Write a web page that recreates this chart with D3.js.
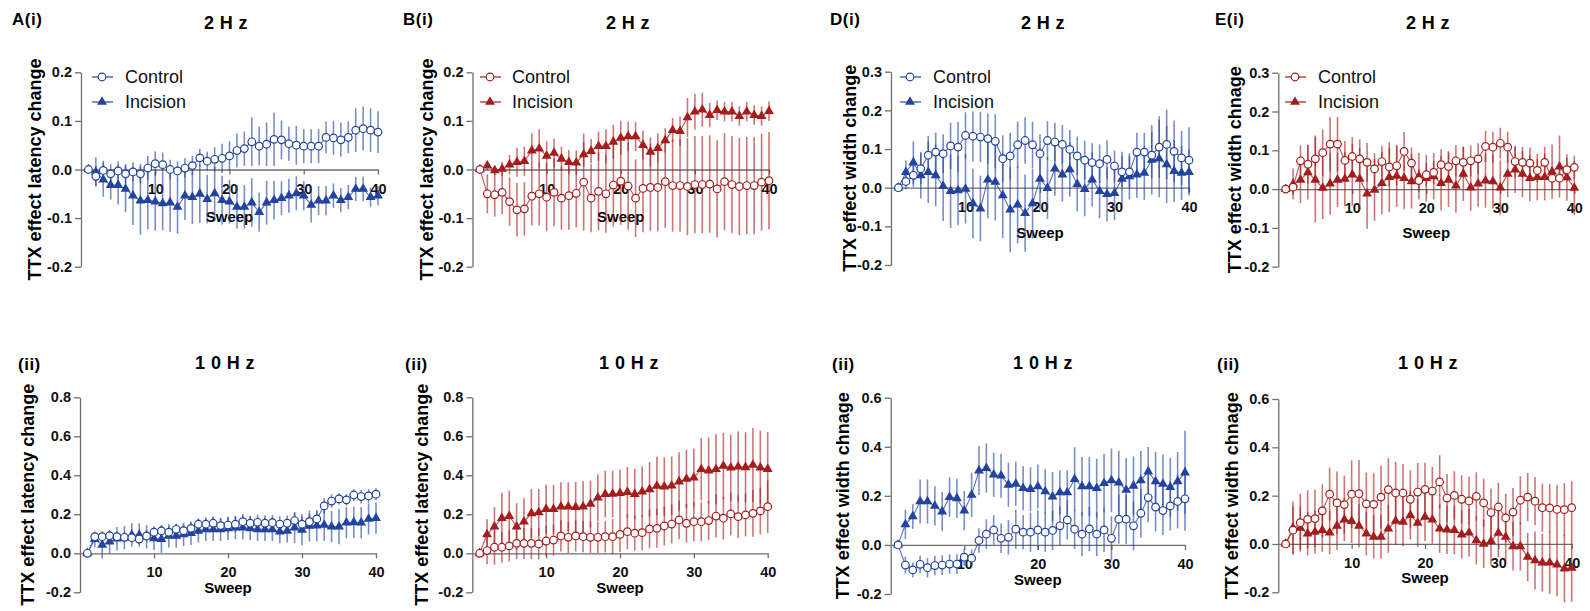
<!DOCTYPE html>
<html><head><meta charset="utf-8">
<script src="https://cdn.jsdelivr.net/npm/d3@7"></script>
<style>
body{margin:0;background:#fff;}
text{font-family:Arial,"Liberation Sans",sans-serif;}
</style></head>
<body><svg id="chart" width="1590" height="611"></svg>
<script>
// ---------- DATA ----------
const sweeps = [1,2,3,4,5,6,7,8,9,10,11,12,13,14,15,16,17,18,19,20,21,22,23,24,25,26,27,28,29,30,31,32,33,34,35,36,37,38,39,40];
const xTicks = [10,20,30,40];
const yTicksTop = [-0.2,-0.1,0,0.1,0.2];
const yTicksTopW = [-0.2,-0.1,0,0.1,0.2,0.3];
const yTicksBotL = [-0.2,0,0.2,0.4,0.6,0.8];
const yTicksBotW = [-0.2,0,0.2,0.4,0.6];
const seriesNames = ["Control","Incision"];

// A(i) 2 Hz latency (blue)
const aCtrl2 = [0,-0.014,-0.002,-0.009,-0.003,-0.009,-0.005,-0.009,0.003,0.012,0.010,0.0,-0.003,0.003,0.008,0.024,0.017,0.021,0.023,0.028,0.039,0.043,0.057,0.048,0.052,0.062,0.061,0.053,0.050,0.048,0.048,0.048,0.066,0.065,0.061,0.066,0.081,0.084,0.081,0.077];
const aCtrl2Err = [0,0.02,0.02,0.02,0.02,0.02,0.02,0.02,0.025,0.025,0.025,0.02,0.02,0.02,0.02,0.018,0.02,0.025,0.03,0.03,0.035,0.035,0.05,0.04,0.045,0.055,0.04,0.035,0.04,0.035,0.035,0.035,0.033,0.035,0.035,0.033,0.045,0.045,0.045,0.043];
const aInc2 = [0,-0.005,-0.021,-0.032,-0.032,-0.040,-0.054,-0.064,-0.063,-0.066,-0.070,-0.068,-0.077,-0.054,-0.057,-0.050,-0.061,-0.049,-0.063,-0.066,-0.077,-0.077,-0.068,-0.088,-0.068,-0.063,-0.059,-0.054,-0.049,-0.054,-0.073,-0.064,-0.064,-0.054,-0.063,-0.057,-0.040,-0.040,-0.057,-0.054];
const aInc2Err = [0,0.03,0.035,0.03,0.04,0.048,0.06,0.07,0.06,0.06,0.055,0.06,0.055,0.05,0.055,0.06,0.05,0.055,0.05,0.045,0.045,0.045,0.05,0.04,0.045,0.04,0.035,0.035,0.035,0.03,0.036,0.03,0.03,0.025,0.025,0.025,0.025,0.025,0.02,0.02];

// B(i) 2 Hz latency (red)
const bCtrl2 = [0,-0.050,-0.052,-0.047,-0.066,-0.083,-0.081,-0.055,-0.050,-0.057,-0.047,-0.059,-0.054,-0.049,-0.026,-0.059,-0.045,-0.050,-0.032,-0.024,-0.034,-0.059,-0.039,-0.037,-0.037,-0.025,-0.033,-0.033,-0.035,-0.031,-0.031,-0.030,-0.040,-0.025,-0.031,-0.035,-0.033,-0.033,-0.026,-0.023];
const bCtrl2Err = [0,0.04,0.045,0.045,0.05,0.055,0.055,0.06,0.065,0.07,0.07,0.065,0.07,0.07,0.1,0.07,0.08,0.08,0.085,0.09,0.09,0.08,0.09,0.09,0.09,0.095,0.095,0.095,0.1,0.1,0.1,0.1,0.1,0.1,0.1,0.1,0.1,0.1,0.1,0.1];
const bInc2 = [0,0.008,-0.002,0.001,0.010,0.015,0.017,0.039,0.043,0.028,0.034,0.022,0.015,0.014,0.031,0.038,0.048,0.048,0.057,0.065,0.068,0.068,0.050,0.036,0.044,0.060,0.081,0.079,0.107,0.119,0.123,0.112,0.122,0.119,0.119,0.110,0.119,0.112,0.110,0.120];
const bInc2Err = [0,0.01,0.01,0.015,0.02,0.03,0.03,0.035,0.04,0.03,0.03,0.025,0.025,0.025,0.025,0.025,0.03,0.035,0.035,0.035,0.03,0.03,0.03,0.03,0.03,0.025,0.025,0.03,0.04,0.037,0.035,0.025,0.02,0.02,0.02,0.02,0.02,0.02,0.02,0.02];

// D(i) 2 Hz width (blue)
const dCtrl2 = [0,0.016,0.032,0.049,0.084,0.092,0.088,0.108,0.105,0.135,0.133,0.131,0.127,0.120,0.075,0.082,0.111,0.122,0.111,0.088,0.122,0.118,0.112,0.099,0.082,0.071,0.065,0.062,0.073,0.056,0.041,0.041,0.092,0.092,0.084,0.105,0.112,0.094,0.077,0.071];
const dCtrl2Err = [0,0.02,0.03,0.04,0.05,0.05,0.05,0.06,0.065,0.06,0.065,0.065,0.065,0.07,0.06,0.06,0.06,0.06,0.06,0.05,0.05,0.05,0.05,0.05,0.05,0.05,0.05,0.05,0.05,0.04,0.04,0.04,0.05,0.05,0.06,0.08,0.09,0.08,0.07,0.085];
const dInc2 = [0,0.040,0.065,0.032,0.040,0.032,0.004,-0.009,-0.007,-0.003,-0.041,-0.054,0.021,0.015,-0.020,-0.057,-0.044,-0.066,-0.041,0.023,-0.001,0.049,0.034,0.047,0.009,-0.004,0.021,-0.009,-0.017,-0.014,0.023,0.029,0.034,0.038,0.072,0.075,0.060,0.043,0.038,0.040];
const dInc2Err = [0,0.03,0.055,0.06,0.08,0.08,0.09,0.095,0.09,0.09,0.09,0.085,0.1,0.1,0.11,0.11,0.1,0.1,0.09,0.08,0.08,0.07,0.07,0.07,0.07,0.07,0.07,0.07,0.07,0.07,0.07,0.06,0.06,0.07,0.09,0.1,0.1,0.08,0.07,0.06];

// E(i) 2 Hz width (red)
const eCtrl2 = [0,0.005,0.073,0.064,0.078,0.094,0.116,0.116,0.074,0.084,0.078,0.069,0.052,0.071,0.057,0.060,0.097,0.067,0.022,0.037,0.043,0.063,0.058,0.073,0.069,0.073,0.078,0.110,0.108,0.118,0.108,0.071,0.069,0.067,0.048,0.069,0.028,0.028,0.050,0.056];
const eCtrl2Err = [0,0.02,0.04,0.05,0.06,0.06,0.07,0.07,0.05,0.05,0.05,0.05,0.04,0.04,0.05,0.05,0.05,0.04,0.03,0.03,0.03,0.04,0.04,0.04,0.04,0.04,0.04,0.04,0.04,0.04,0.04,0.04,0.04,0.04,0.03,0.04,0.03,0.03,0.03,0.03];
const eInc2 = [0,0.013,0.024,0.043,0.024,0.003,0.014,0.024,0.026,0.037,0.026,-0.012,-0.002,0.015,0.031,0.034,0.028,0.020,0.033,0.028,0.033,0.015,0.024,0.009,0.039,0.004,0.014,0.022,0.020,0.004,0.039,0.050,0.039,0.028,0.031,0.031,0.045,0.058,0.030,0.003];
const eInc2Err = [0,0.04,0.06,0.07,0.11,0.08,0.08,0.07,0.07,0.08,0.08,0.09,0.08,0.08,0.09,0.08,0.08,0.07,0.06,0.06,0.06,0.07,0.07,0.07,0.07,0.06,0.06,0.07,0.07,0.07,0.06,0.06,0.06,0.06,0.06,0.06,0.07,0.08,0.06,0.07];

// A(ii) 10 Hz latency (blue)
const aCtrl10 = [0,0.085,0.085,0.090,0.085,0.082,0.080,0.073,0.089,0.108,0.115,0.108,0.123,0.116,0.128,0.149,0.149,0.154,0.142,0.145,0.149,0.162,0.154,0.159,0.154,0.157,0.150,0.154,0.168,0.149,0.162,0.176,0.243,0.268,0.279,0.274,0.299,0.291,0.294,0.303];
const aCtrl10Err = [0,0.02,0.02,0.025,0.025,0.025,0.025,0.025,0.03,0.03,0.03,0.03,0.03,0.03,0.03,0.03,0.03,0.035,0.035,0.04,0.04,0.04,0.04,0.04,0.04,0.04,0.04,0.04,0.04,0.04,0.04,0.04,0.04,0.035,0.03,0.03,0.03,0.035,0.035,0.03];
const aInc10 = [0,0.072,0.043,0.060,0.075,0.080,0.094,0.094,0.085,0.077,0.072,0.089,0.089,0.097,0.103,0.115,0.123,0.123,0.123,0.128,0.132,0.132,0.128,0.123,0.123,0.123,0.111,0.115,0.132,0.120,0.140,0.142,0.145,0.137,0.137,0.157,0.159,0.157,0.176,0.180];
const aInc10Err = [0,0.04,0.07,0.06,0.06,0.06,0.06,0.06,0.06,0.06,0.07,0.06,0.06,0.06,0.06,0.06,0.06,0.06,0.06,0.06,0.06,0.06,0.06,0.06,0.06,0.06,0.06,0.06,0.08,0.08,0.08,0.08,0.08,0.08,0.09,0.08,0.08,0.08,0.08,0.08];

// B(ii) 10 Hz latency (red)
const bCtrl10 = [0,0.014,0.031,0.031,0.038,0.051,0.051,0.051,0.048,0.063,0.068,0.089,0.082,0.089,0.085,0.082,0.082,0.085,0.085,0.097,0.111,0.103,0.106,0.125,0.128,0.140,0.150,0.171,0.154,0.162,0.162,0.168,0.191,0.180,0.202,0.188,0.197,0.205,0.217,0.239];
const bCtrl10Err = [0,0.07,0.09,0.08,0.08,0.08,0.08,0.08,0.08,0.08,0.08,0.08,0.08,0.08,0.08,0.08,0.08,0.08,0.09,0.09,0.09,0.09,0.09,0.1,0.1,0.1,0.1,0.1,0.1,0.1,0.1,0.1,0.11,0.11,0.11,0.11,0.11,0.12,0.12,0.135];
const bInc10 = [0,0.097,0.137,0.180,0.191,0.137,0.162,0.205,0.210,0.227,0.226,0.239,0.239,0.236,0.239,0.253,0.285,0.303,0.304,0.308,0.313,0.303,0.316,0.328,0.345,0.342,0.347,0.368,0.381,0.388,0.431,0.424,0.431,0.448,0.439,0.444,0.441,0.453,0.439,0.432];
const bInc10Err = [0,0.077,0.1,0.13,0.13,0.12,0.12,0.125,0.12,0.125,0.125,0.125,0.125,0.13,0.13,0.12,0.12,0.12,0.12,0.12,0.13,0.13,0.13,0.14,0.15,0.15,0.15,0.15,0.15,0.15,0.16,0.17,0.18,0.17,0.17,0.18,0.18,0.19,0.19,0.19];

// D(ii) 10 Hz width (blue)
const dCtrl10 = [0,-0.082,-0.102,-0.079,-0.093,-0.084,-0.082,-0.078,-0.078,-0.050,-0.054,0.018,0.044,0.061,0.027,0.031,0.064,0.052,0.052,0.061,0.052,0.059,0.078,0.102,0.064,0.044,0.065,0.044,0.061,0.027,0.105,0.105,0.078,0.129,0.193,0.154,0.140,0.159,0.177,0.188];
const dCtrl10Err = [0,0.035,0.03,0.035,0.04,0.04,0.04,0.04,0.04,0.035,0.035,0.05,0.06,0.06,0.06,0.07,0.08,0.07,0.08,0.08,0.08,0.08,0.08,0.08,0.08,0.09,0.09,0.09,0.09,0.09,0.1,0.1,0.1,0.1,0.1,0.1,0.1,0.1,0.11,0.13];
const dInc10 = [0,0.084,0.116,0.177,0.177,0.159,0.136,0.195,0.190,0.140,0.204,0.303,0.313,0.286,0.282,0.245,0.249,0.231,0.227,0.238,0.218,0.197,0.214,0.214,0.268,0.238,0.238,0.231,0.252,0.263,0.254,0.224,0.241,0.263,0.299,0.259,0.249,0.235,0.259,0.295];
const dInc10Err = [0,0.06,0.05,0.09,0.09,0.08,0.08,0.08,0.08,0.08,0.09,0.1,0.1,0.09,0.09,0.09,0.09,0.09,0.09,0.09,0.09,0.1,0.09,0.09,0.13,0.12,0.12,0.12,0.12,0.13,0.13,0.13,0.12,0.12,0.1,0.12,0.12,0.12,0.12,0.17];

// E(ii) 10 Hz width (red)
const eCtrl10 = [0,0.057,0.088,0.102,0.105,0.137,0.206,0.170,0.163,0.206,0.208,0.166,0.164,0.194,0.225,0.211,0.211,0.185,0.215,0.226,0.219,0.257,0.190,0.201,0.185,0.178,0.197,0.170,0.130,0.153,0.108,0.132,0.181,0.194,0.177,0.150,0.149,0.143,0.142,0.150];
const eCtrl10Err = [0,0.1,0.12,0.12,0.12,0.11,0.11,0.13,0.12,0.14,0.14,0.13,0.13,0.13,0.13,0.13,0.12,0.12,0.12,0.11,0.1,0.11,0.1,0.1,0.1,0.1,0.1,0.1,0.1,0.1,0.1,0.1,0.1,0.1,0.1,0.1,0.1,0.1,0.11,0.11];
const eInc10 = [0,0.066,0.066,0.043,0.050,0.057,0.047,0.075,0.101,0.094,0.075,0.043,0.029,0.029,0.063,0.095,0.091,0.119,0.087,0.112,0.101,0.063,0.059,0.057,0.039,0.047,0.015,0.0,0.012,0.046,0.029,-0.010,-0.010,-0.054,-0.068,-0.077,-0.077,-0.086,-0.102,-0.099];
const eInc10Err = [0,0.11,0.09,0.09,0.09,0.09,0.09,0.1,0.09,0.09,0.09,0.09,0.09,0.09,0.1,0.1,0.1,0.1,0.1,0.1,0.1,0.1,0.1,0.1,0.1,0.1,0.1,0.1,0.1,0.1,0.1,0.1,0.1,0.1,0.12,0.12,0.13,0.13,0.14,0.14];

// ---------- STYLE / LAYOUT ----------
const BLUE = "#22439e", RED = "#a51c1c";
const FONT = "Arial, 'Liberation Sans', sans-serif";

const panels = [
  {label:"A(i)", title:"2 H z", yl:"TTX effect latency change", color:BLUE, ctrl:aCtrl2, ctrlE:aCtrl2Err, inc:aInc2, incE:aInc2Err,
   left:81, width:297, top:72.3, bottom:266.7, dom:[-0.2,0.2], yt:yTicksTop, legend:[102,125], lab:[12,25], tx:226, ty:29, ylx:35, sweepDy:52},
  {label:"B(i)", title:"2 H z", yl:"TTX effect latency change", color:RED, ctrl:bCtrl2, ctrlE:bCtrl2Err, inc:bInc2, incE:bInc2Err,
   left:472.5, width:296.5, top:72.3, bottom:266.7, dom:[-0.2,0.2], yt:yTicksTop, legend:[490,512], lab:[403,25], tx:628, ty:29, ylx:427, sweepDy:52},
  {label:"D(i)", title:"2 H z", yl:"TTX effect width change", color:BLUE, ctrl:dCtrl2, ctrlE:dCtrl2Err, inc:dInc2, incE:dInc2Err,
   left:891, width:298, top:71.7, bottom:265, dom:[-0.2,0.3], yt:yTicksTopW, legend:[910,933], lab:[830,25], tx:1043, ty:29, ylx:850, sweepDy:50},
  {label:"E(i)", title:"2 H z", yl:"TTX effect width chnage", color:RED, ctrl:eCtrl2, ctrlE:eCtrl2Err, inc:eInc2, incE:eInc2Err,
   left:1278.3, width:296, top:72.7, bottom:266.7, dom:[-0.2,0.3], yt:yTicksTopW, legend:[1295,1318], lab:[1215,25], tx:1428, ty:29, ylx:1235, sweepDy:49},
  {label:"(ii)", title:"1 0 H z", yl:"TTX effect latency change", color:BLUE, ctrl:aCtrl10, ctrlE:aCtrl10Err, inc:aInc10, incE:aInc10Err,
   left:80, width:296, top:397.3, bottom:592.3, dom:[-0.2,0.8], yt:yTicksBotL, legend:null, lab:[18,370], tx:225, ty:369, ylx:28, sweepDy:40},
  {label:"(ii)", title:"1 0 H z", yl:"TTX effect latency change", color:RED, ctrl:bCtrl10, ctrlE:bCtrl10Err, inc:bInc10, incE:bInc10Err,
   left:472.3, width:295.4, top:397.3, bottom:592.3, dom:[-0.2,0.8], yt:yTicksBotL, legend:null, lab:[405,370], tx:629, ty:369, ylx:422, sweepDy:40},
  {label:"(ii)", title:"1 0 H z", yl:"TTX effect width chnage", color:BLUE, ctrl:dCtrl10, ctrlE:dCtrl10Err, inc:dInc10, incE:dInc10Err,
   left:890.7, width:294.3, top:397.7, bottom:594, dom:[-0.2,0.6], yt:yTicksBotW, legend:null, lab:[832,370], tx:1043, ty:369, ylx:843, sweepDy:40},
  {label:"(ii)", title:"1 0 H z", yl:"TTX effect width chnage", color:RED, ctrl:eCtrl10, ctrlE:eCtrl10Err, inc:eInc10, incE:eInc10Err,
   left:1278.3, width:293.4, top:399, bottom:592.3, dom:[-0.2,0.6], yt:yTicksBotW, legend:null, lab:[1217,370], tx:1428, ty:369, ylx:1232, sweepDy:39}
];

const svg = d3.select("#chart");
const fmt = v => (Math.abs(v) < 1e-9 ? 0 : v).toFixed(1);
const tri = d3.symbol().type(d3.symbolTriangle).size(42);

panels.forEach(p => {
  const g = svg.append("g");
  const x = d3.scaleLinear().domain([0,40]).range([p.left, p.left + p.width]);
  const y = d3.scaleLinear().domain(p.dom).range([p.bottom, p.top]);
  const y0 = y(0);

  g.append("text").attr("x", p.lab[0]).attr("y", p.lab[1]).attr("font-size", 17).attr("font-weight", "bold")
    .attr("letter-spacing", 0.5).text(p.label);
  g.append("text").attr("x", p.tx).attr("y", p.ty).attr("text-anchor", "middle").attr("font-size", 18)
    .attr("font-weight", "bold").attr("letter-spacing", 0.4).text(p.title);

  const yAxis = d3.axisLeft(y).tickValues(p.yt).tickFormat(fmt).tickSize(6).tickSizeOuter(0);
  const ya = g.append("g").attr("transform", `translate(${p.left},0)`).call(yAxis);
  ya.select(".domain").attr("stroke", "#6e6e6e").attr("stroke-width", 1.3);
  ya.selectAll(".tick line").attr("stroke", "#6e6e6e").attr("stroke-width", 1.3);
  ya.selectAll(".tick text").attr("font-family", FONT).attr("font-size", 14.5).attr("font-weight", "bold")
    .attr("fill", "#111").attr("x", -9);

  const xAxis = d3.axisBottom(x).tickValues(xTicks).tickFormat(d3.format("d")).tickSize(5).tickSizeOuter(0);
  const xa = g.append("g").attr("transform", `translate(0,${y0})`).call(xAxis);
  xa.select(".domain").attr("stroke", "#6e6e6e").attr("stroke-width", 1.3);
  xa.selectAll(".tick line").attr("stroke", "#6e6e6e").attr("stroke-width", 1.3);
  xa.selectAll(".tick text").attr("font-family", FONT).attr("font-size", 14.5).attr("font-weight", "bold")
    .attr("fill", "#111").attr("dy", 0).attr("y", 24);

  g.append("text").attr("x", p.left + p.width/2).attr("y", y0 + p.sweepDy).attr("text-anchor", "middle")
    .attr("font-size", 15).attr("font-weight", "bold").text("Sweep");

  g.append("text").attr("transform", `translate(${p.ylx},${(p.top+p.bottom)/2}) rotate(-90)`)
    .attr("text-anchor", "middle").attr("dominant-baseline", "central").attr("font-size", 18)
    .attr("font-weight", "bold").text(p.yl);

  const ctrl = sweeps.map((s,i) => ({s, v:p.ctrl[i], e:p.ctrlE[i]}));
  const inc = sweeps.map((s,i) => ({s, v:p.inc[i], e:p.incE[i]}));

  [inc, ctrl].forEach(ser => {
    g.append("g").selectAll("line").data(ser.filter(d => d.e > 0)).join("line")
      .attr("x1", d => x(d.s)).attr("x2", d => x(d.s))
      .attr("y1", d => y(d.v - d.e)).attr("y2", d => y(d.v + d.e))
      .attr("stroke", p.color).attr("stroke-opacity", 0.6).attr("stroke-width", 1.6);
  });

  const line = d3.line().x(d => x(d.s)).y(d => y(d.v));
  g.append("path").datum(inc).attr("d", line).attr("fill", "none").attr("stroke", p.color)
    .attr("stroke-opacity", 0.75).attr("stroke-width", 1.1);
  g.append("path").datum(ctrl).attr("d", line).attr("fill", "none").attr("stroke", p.color)
    .attr("stroke-opacity", 0.75).attr("stroke-width", 1.1);

  g.append("g").selectAll("path").data(inc).join("path").attr("d", tri)
    .attr("transform", d => `translate(${x(d.s)},${y(d.v)})`).attr("fill", p.color);
  g.append("g").selectAll("circle").data(ctrl).join("circle")
    .attr("cx", d => x(d.s)).attr("cy", d => y(d.v)).attr("r", 3.8)
    .attr("fill", "#fff").attr("stroke", p.color).attr("stroke-width", 1.2);

  if (p.legend) {
    const [cx, tx] = p.legend;
    const rows = [77, 102];
    seriesNames.forEach((name, i) => {
      const ly = rows[i];
      g.append("line").attr("x1", cx - 10).attr("x2", cx + 11).attr("y1", ly).attr("y2", ly)
        .attr("stroke", p.color).attr("stroke-width", 1.2);
      if (i === 0) {
        g.append("circle").attr("cx", cx).attr("cy", ly).attr("r", 3.8).attr("fill", "#fff")
          .attr("stroke", p.color).attr("stroke-width", 1.2);
      } else {
        g.append("path").attr("d", tri).attr("transform", `translate(${cx},${ly})`).attr("fill", p.color);
      }
      g.append("text").attr("x", tx).attr("y", ly).attr("dominant-baseline", "central")
        .attr("font-size", 18).attr("fill", "#111").text(name);
    });
  }
});
</script></body></html>
